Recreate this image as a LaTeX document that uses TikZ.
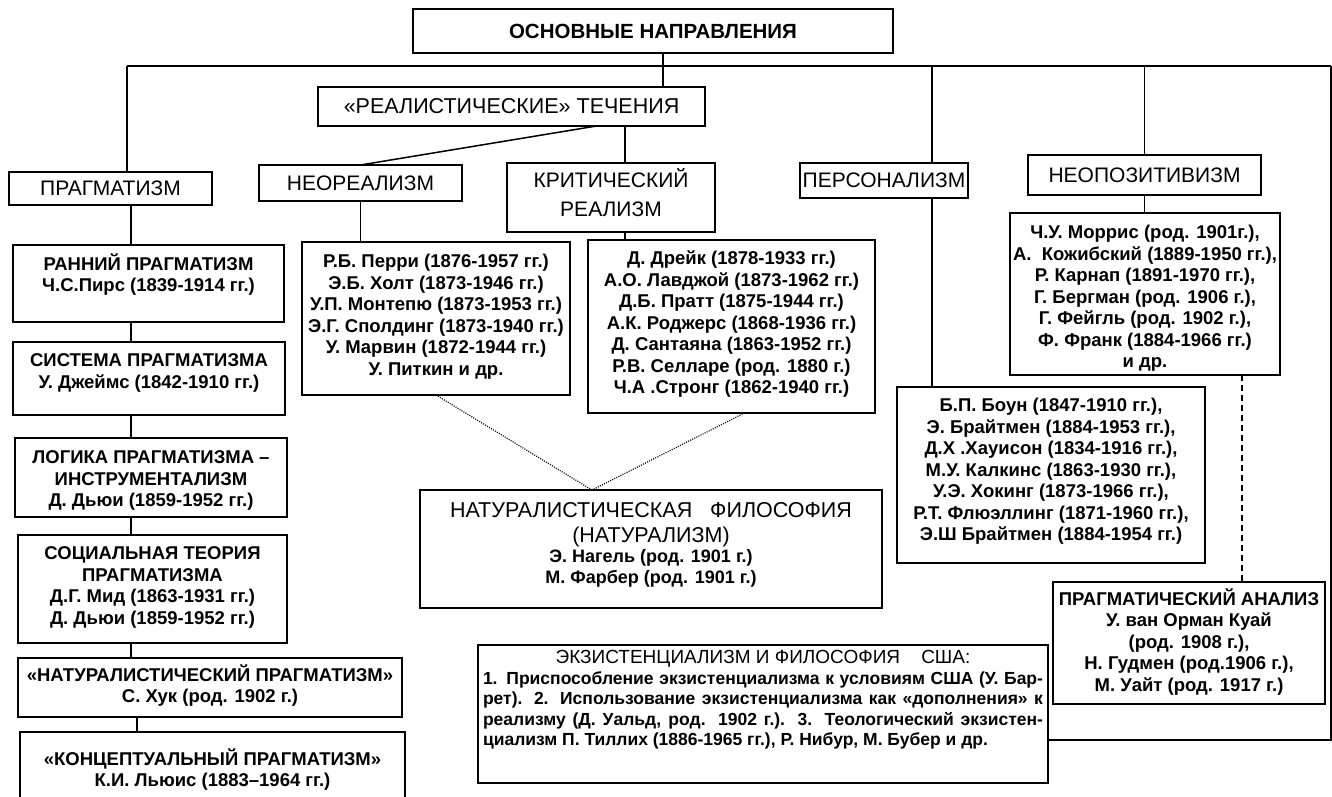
\documentclass[tikz,border=0pt]{standalone}
\usepackage{fontspec}
\setmainfont{Liberation Sans}
\newcommand\tbx[4]{\parbox[c][#2][t]{#1}{\centering\vspace*{#3}#4\par}}
\newcommand\nmf{\fontsize{18.5}{21.5}\selectfont\bfseries}
\newcommand\hdf{\fontsize{21}{29}\selectfont}
\tikzset{
  box/.style={draw, line width=1.7pt, inner sep=0pt, outer sep=0pt},
  ln/.style={line width=1.5pt},
  dot/.style={line width=1.2pt, dash pattern=on 1pt off 1.3pt},
  dsh/.style={line width=1.5pt, dash pattern=on 6pt off 4pt},
}
\begin{document}
\begin{tikzpicture}[x=1pt,y=-1pt]
\clip (0,0) rectangle (1332,797);
\fill[white] (0,0) rectangle (1332,797);

% top level
\node[box, minimum width=480pt, minimum height=44pt] (title) at (653,31) {\fontsize{20.5}{24}\selectfont\bfseries ОСНОВНЫЕ НАПРАВЛЕНИЯ};
\node[box, minimum width=387pt, minimum height=39pt] (real) at (511.5,106.5) {\fontsize{21.5}{26}\selectfont «РЕАЛИСТИЧЕСКИЕ» ТЕЧЕНИЯ};

% headers
\node[box, minimum width=203pt, minimum height=33pt] (prag) at (110.5,188.5) {\hdf ПРАГМАТИЗМ};
\node[box, minimum width=203pt, minimum height=36pt] (neoH) at (360.5,183) {\hdf НЕОРЕАЛИЗМ};
\node[box] (critH) at (611,197.5) {\tbx{208pt}{69pt}{4.6pt}{\hdf\strut КРИТИЧЕСКИЙ\\РЕАЛИЗМ}};
\node[box, minimum width=168pt, minimum height=35pt] (persH) at (884,180.5) {\hdf ПЕРСОНАЛИЗМ};
\node[box, minimum width=233pt, minimum height=40pt] (neo2H) at (1144.5,175) {\hdf НЕОПОЗИТИВИЗМ};

% left column
\node[box] (ranniy) at (148.5,283.5) {\tbx{271pt}{77pt}{8.6pt}{\nmf\strut РАННИЙ ПРАГМАТИЗМ\\Ч.С.Пирс (1839-1914 гг.)}};
\node[box] (sistema) at (149,378.5) {\tbx{272pt}{73pt}{9.6pt}{\nmf\strut СИСТЕМА ПРАГМАТИЗМА\\У. Джеймс (1842-1910 гг.)}};
\node[box] (logika) at (151,477.5) {\tbx{272pt}{79pt}{10.6pt}{\nmf\strut ЛОГИКА ПРАГМАТИЗМА –\\ИНСТРУМЕНТАЛИЗМ\\Д. Дьюи (1859-1952 гг.)}};
\node[box] (social) at (152.5,589) {\tbx{269pt}{108pt}{9.6pt}{\nmf\strut СОЦИАЛЬНАЯ ТЕОРИЯ\\ПРАГМАТИЗМА\\Д.Г. Мид (1863-1931 гг.)\\Д. Дьюи (1859-1952 гг.)}};
\node[box] (natprag) at (210,687.5) {\tbx{384pt}{59pt}{6.6pt}{\nmf\strut «НАТУРАЛИСТИЧЕСКИЙ ПРАГМАТИЗМ»\\С. Хук (род. 1902 г.)}};
\node[box] (konc) at (212.5,771) {\tbx{385pt}{78pt}{16.6pt}{\nmf\strut «КОНЦЕПТУАЛЬНЫЙ ПРАГМАТИЗМ»\\К.И. Льюис (1883–1964 гг.)}};

% middle
\node[box] (neoP) at (436,318.5) {\tbx{268pt}{153pt}{10.6pt}{\nmf\strut Р.Б. Перри (1876-1957 гг.)\\Э.Б. Холт (1873-1946 гг.)\\У.П. Монтепю (1873-1953 гг.)\\Э.Г. Сполдинг (1873-1940 гг.)\\У. Марвин (1872-1944 гг.)\\У. Питкин и др.}};
\node[box] (critP) at (731.5,326.5) {\tbx{287pt}{173pt}{9.6pt}{\nmf\strut Д. Дрейк (1878-1933 гг.)\\А.О. Лавджой (1873-1962 гг.)\\Д.Б. Пратт (1875-1944 гг.)\\А.К. Роджерс (1868-1936 гг.)\\Д. Сантаяна (1863-1952 гг.)\\Р.В. Селларе (род. 1880 г.)\\Ч.А .Стронг (1862-1940 гг.)}};
\node[box] (nat) at (651,549) {\tbx{462pt}{118pt}{9.6pt}{{\fontsize{21.5}{25}\selectfont\strut НАТУРАЛИСТИЧЕСКАЯ\ \ \ ФИЛОСОФИЯ\par (НАТУРАЛИЗМ)\par}{\fontsize{18}{20.8}\selectfont\bfseries Э. Нагель (род. 1901 г.)\par М. Фарбер (род. 1901 г.)\par}}};
\node[box] (ex) at (763,714) {\tbx{570pt}{138pt}{4.0pt}{{\fontsize{19}{21}\selectfont\strut ЭКЗИСТЕНЦИАЛИЗМ И ФИЛОСОФИЯ\ \ \ \ США:\par}{\fontsize{17.5}{20.5}\selectfont\bfseries
\moveright5pt\hbox to 560pt{1. Приспособление экзистенциализма к условиям США (У. Бар-}
\moveright5pt\hbox to 560pt{рет). 2. Использование экзистенциализма как «дополнения» к}
\moveright5pt\hbox to 560pt{реализму (Д. Уальд, род. 1902 г.). 3. Теологический экзистен-}
\moveright5pt\hbox to 560pt{циализм П. Тиллих (1886-1965 гг.), Р. Нибур, М. Бубер и др.\hfill}\par}}};

% right
\node[box] (neo2P) at (1145,294) {\tbx{270pt}{162pt}{10.6pt}{\nmf\strut Ч.У. Моррис (род. 1901г.),\\А.\ \ Кожибский (1889-1950 гг.),\\Р. Карнап (1891-1970 гг.),\\Г. Бергман (род. 1906 г.),\\Г. Фейгль (род. 1902 г.),\\Ф. Франк (1884-1966 гг.)\\и др.}};
\node[box] (persP) at (1051,475) {\tbx{308pt}{176pt}{9.6pt}{\nmf\strut Б.П. Боун (1847-1910 гг.),\\Э. Брайтмен (1884-1953 гг.),\\Д.Х .Хауисон (1834-1916 гг.),\\М.У. Калкинс (1863-1930 гг.),\\У.Э. Хокинг (1873-1966 гг.),\\Р.Т. Флюэллинг (1871-1960 гг.),\\Э.Ш Брайтмен (1884-1954 гг.)}};
\node[box] (pa) at (1189,643) {\tbx{272pt}{122pt}{6.6pt}{\nmf\strut ПРАГМАТИЧЕСКИЙ АНАЛИЗ\\У. ван Орман Куай\\(род. 1908 г.),\\Н. Гудмен (род.1906 г.),\\М. Уайт (род. 1917 г.)}};

% connectors
\coordinate (hl) at (127,66);
\coordinate (hr) at (1331,66);
\coordinate (tv) at (663,66);
\coordinate (pv) at (932,66);
\coordinate (cv) at (625,66);
\coordinate (lv) at (131,66);
\coordinate (dv) at (1242,66);
\coordinate (er) at (1331,740);

\draw[ln] (tv |- title.south) -- (tv |- real.north);
\draw[ln] (hl) -- (hr);
\draw[ln] (hl) -- (hl |- prag.north);
\draw[ln] (pv) -- (pv |- persH.north);
\draw[ln] (pv |- persH.south) -- (pv |- persP.north);
\draw[ln] (neo2H.north |- hl) -- (neo2H.north);
\draw[ln] (neo2H.south) -- (neo2H.south |- neo2P.north);
\draw[ln] ([xshift=85pt]real.south) -- (neoH.north);
\draw[ln] (cv |- real.south) -- (cv |- critH.north);
\draw[ln] (cv |- critH.south) -- (cv |- critP.north);
\draw[ln] (neoH.south) -- (neoH.south |- neoP.north);

\draw[ln] (lv |- prag.south) -- (lv |- ranniy.north);
\draw[ln] (lv |- ranniy.south) -- (lv |- sistema.north);
\draw[ln] (lv |- sistema.south) -- (lv |- logika.north);
\draw[ln] (lv |- logika.south) -- (lv |- social.north);
\draw[ln] (lv |- social.south) -- (lv |- natprag.north);
\draw[ln] ([xshift=6pt]lv |- natprag.south) -- ([xshift=6pt]lv |- konc.north);

\draw[dot] (neoP.south) -- ([xshift=-59pt]nat.north);
\draw[dot] ([xshift=13pt]critP.south) -- ([xshift=-59pt]nat.north);
\draw[dsh] (dv |- neo2P.south) -- (dv |- pa.north);
\draw[ln] (hr) -- (er) -- (er -| ex.east);
\end{tikzpicture}
\end{document}
